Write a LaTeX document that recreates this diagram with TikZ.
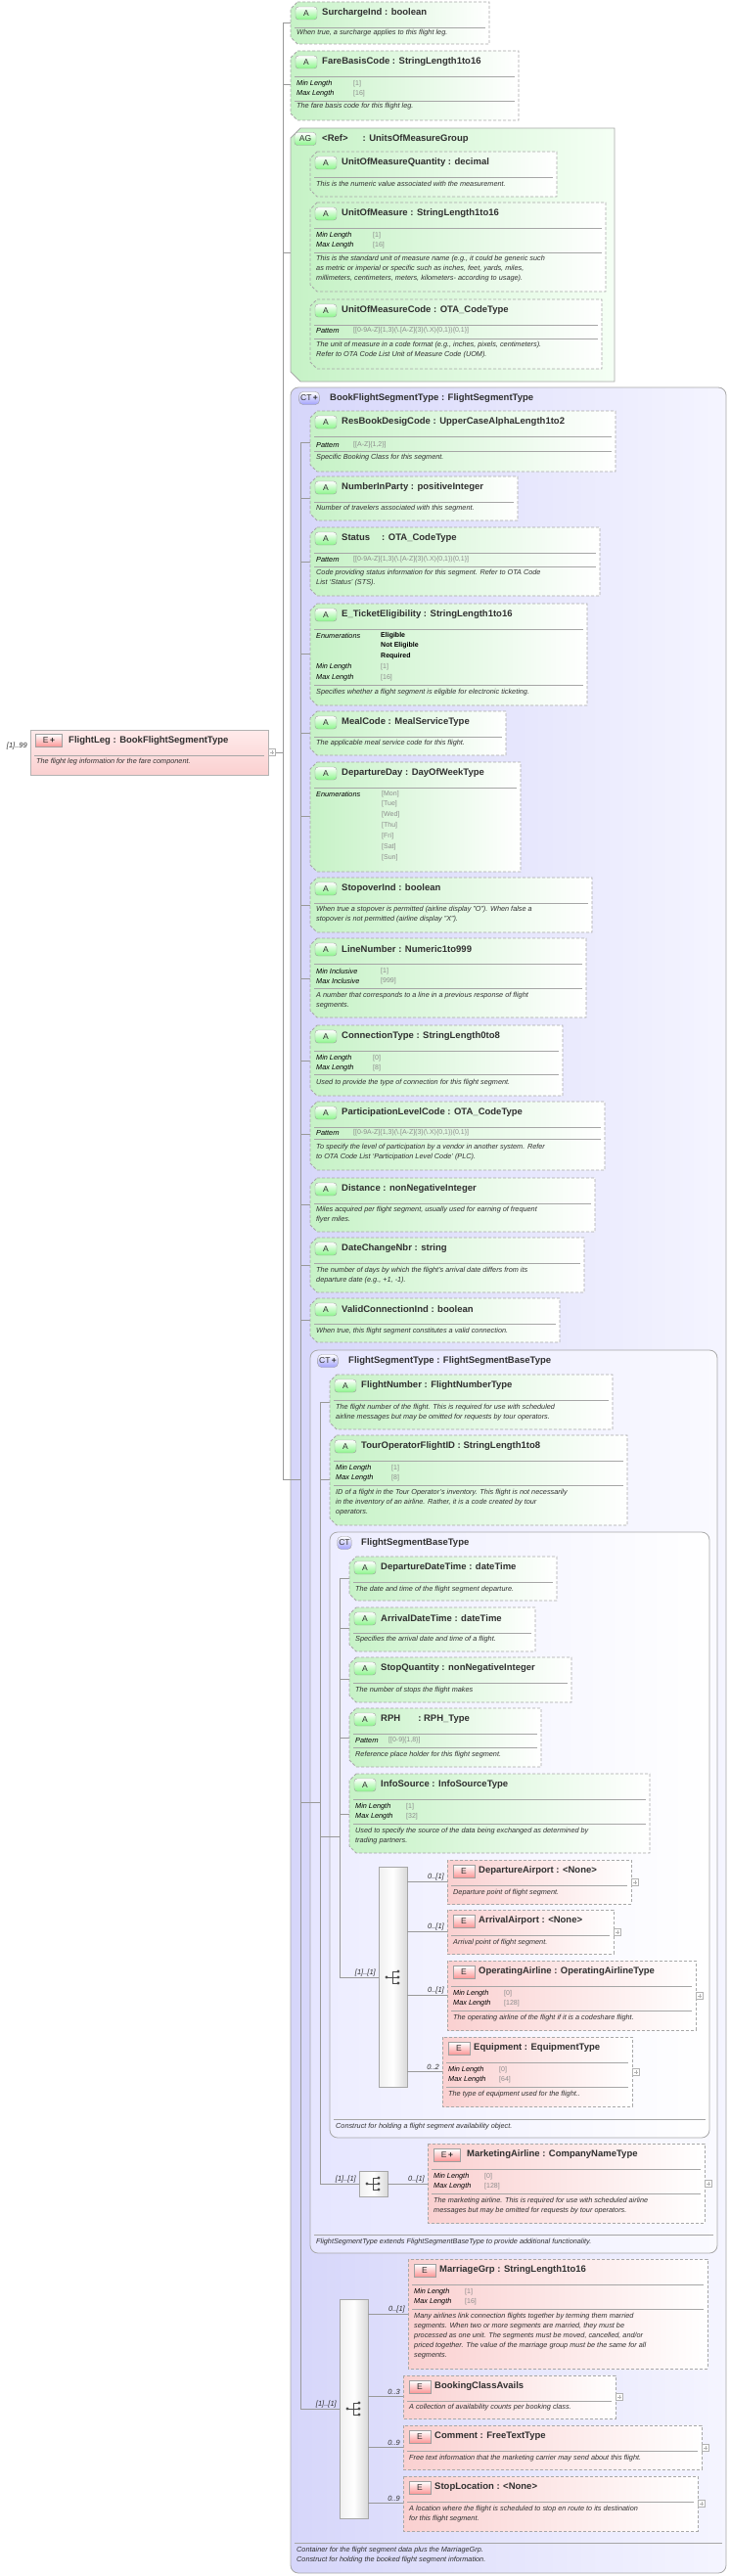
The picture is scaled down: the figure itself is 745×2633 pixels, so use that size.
\documentclass[tikz,border=0pt]{standalone}
\usepackage{fontspec}
\setmainfont{Liberation Sans}
\definecolor{agreen}{HTML}{C6F2C6}
\definecolor{epink}{HTML}{FAD0D0}
\definecolor{ctblue}{HTML}{D6D6FA}
\definecolor{bordg}{HTML}{A8A8A8}
\definecolor{txt}{HTML}{303030}
\definecolor{fvalc}{HTML}{8C8C8C}
\newcounter{nc}
\tikzset{
 attrbox/.style={draw=bordg, dash pattern=on 3pt off 2pt, left color=agreen, right color=white, line width=0.8pt},
 elbox/.style={draw=bordg, dash pattern=on 3pt off 2pt, left color=epink, right color=white, line width=0.8pt},
 ctbox/.style={draw=bordg, rounded corners=8pt, line width=0.8pt},
 ttl/.style={anchor=west, inner sep=0, font=\fontsize{9.5}{11}\selectfont\bfseries, text=txt},
 dsc/.style={anchor=north west, inner sep=0, align=left, font=\fontsize{7.3}{10}\selectfont\itshape, text=txt},
 fkey/.style={anchor=west, inner sep=0, font=\fontsize{7.3}{9}\selectfont\itshape, text=black},
 fval/.style={anchor=west, inner sep=0, font=\fontsize{7}{9}\selectfont, text=fvalc},
 fbold/.style={anchor=west, inner sep=0, font=\fontsize{7}{9}\selectfont\bfseries, text=black},
 sepl/.style={draw=gray!70, line width=0.6pt},
 tree/.style={draw=gray!80, line width=0.6pt},
 card/.style={anchor=south east, inner sep=0, font=\fontsize{7.5}{9}\selectfont\itshape, text=txt},
 badgeA/.style={draw=gray!75, rounded corners=3pt, top color=white, bottom color=green!30!agreen, minimum width=22pt, minimum height=13pt, inner sep=0, font=\fontsize{8.5}{9}\selectfont, text=txt},
 badgeE/.style={draw=gray!75, top color=white, bottom color=red!30!epink, minimum width=22pt, minimum height=13pt, inner sep=0, font=\fontsize{8.5}{9}\selectfont, text=txt},
 badgeC/.style={draw=gray!75, rounded corners=4pt, top color=white, bottom color=blue!25!ctblue, minimum height=13pt, inner sep=1.5pt, font=\fontsize{8.5}{9}\selectfont, text=txt},
 seqbox/.style={draw=gray!70, left color=gray!12, right color=gray!30, middle color=white, line width=0.6pt},
}
\newcommand\Abox[6]{%
 \path[attrbox] ({#2+7},#3) -- (#4,#3) -- (#4,#5) -- ({#2+7},#5) -- (#2,{#5-7}) -- (#2,{#3+7}) -- cycle;
 \node[badgeA] (#1b) at ({#2+16},{#3+11.5}) {A};
 \node[ttl] (#1) at ({#2+32},{#3+11.5}) {#6};
 \draw[sepl] ({#2+4},{#3+26}) -- ({#4-4},{#3+26});}
\newcommand\Ebox[6]{%
 \path[elbox] (#2,#3) rectangle (#4,#5);
 \node[badgeE] (#1b) at ({#2+17},{#3+12}) {E};
 \node[ttl] (#1) at ({#2+32},{#3+11.5}) {#6};
 \draw[sepl] ({#2+4},{#3+26}) -- ({#4-4},{#3+26});}
\newcommand\Dsc[3]{\stepcounter{nc}\node[dsc] (d\arabic{nc}) at (#1,{#2-4.5}) {#3};}
\newcommand\Fct[5]{\stepcounter{nc}\node[fkey] (k\arabic{nc}) at ({#1+6},#2) {#3};\node[fval] (v\arabic{nc}) at ({#1+#5},#2) {#4};}
\newcommand\Val[3]{\stepcounter{nc}\node[fval] (v\arabic{nc}) at (#1,#2) {#3};}
\newcommand\Sep[3]{\draw[sepl] ({#1+4},#3) -- ({#2-4},#3);}
\newcommand\Exp[2]{\draw[gray!60, fill=white, line width=0.5pt] ({#1-3.5},{#2-3.5}) rectangle ({#1+3.5},{#2+3.5}); \draw[gray!60, line width=0.5pt] ({#1-2},#2) -- ({#1+2},#2) ({#1},{#2-2}) -- ({#1},{#2+2});}
\newcommand\SeqIcon[2]{%
 \draw[black!70, line width=0.8pt] ({#1-7},#2) -- ({#1-1},#2) ({#1-1},{#2-6}) -- ({#1-1},{#2+6})
   ({#1-1},{#2-6}) -- ({#1+5},{#2-6}) ({#1-1},{#2+6}) -- ({#1+5},{#2+6}) ({#1-1},#2) -- ({#1+5},#2);
 \fill[black!70] ({#1-7},#2) circle (1.7pt) ({#1+5},{#2-6}) circle (1.7pt) ({#1+5},#2) circle (1.7pt) ({#1+5},{#2+6}) circle (1.7pt);}
\newcommand\Card[3]{\stepcounter{nc}\node[card] (c\arabic{nc}) at (#1,{#2-1}) {#3};}
\newcommand\PatOTA{[[0-9A-Z]\{1,3\}(\textbackslash.[A-Z]\{3\}(\textbackslash.X)\{0,1\})\{0,1\}]}
\begin{document}
\begin{tikzpicture}[x=1pt,y=-1pt]
\useasboundingbox[fill=white] (0,0) rectangle (745,2633);
\path[ctbox, left color=ctblue, right color=blue!4] (297,396) rectangle (742,2630);
\coordinate (t0a) at (289,23); \coordinate (t0b) at (289,1512);
\draw[tree] (t0a) -- (t0b) -- (307,1512);
\draw[tree] (t0a) -- (297,23) (289,86) -- (297,86) (289,258) -- (297,258);
\draw[tree] (281,769) -- (289,769);
\draw[tree] (307,178) -- (307,340);
\foreach \yy in {178,250,340} \draw[tree] (307,\yy) -- (317,\yy);
\draw[tree] (307,452) -- (307,2462);
\foreach \yy in {452,509,574,668,749,834,925,1000,1084,1159,1231,1293,1349} \draw[tree] (307,\yy) -- (317,\yy);
\draw[draw=gray!60, top color=red!8, bottom color=epink, line width=0.8pt] (31,746) rectangle (274,792);
\node[badgeE, minimum width=27pt] (flb) at (50,757) {E\,\textbf{+}};
\node[ttl] (fl) at (70,757) {FlightLeg : BookFlightSegmentType};
\draw[sepl] (35,772) -- (270,772);
\Dsc{37}{780}{The flight leg information for the fare component.}
\node[card, anchor=east] (flc) at (28,763) {[1]..99};
\Exp{278}{769}
\Abox{surch}{297}{2}{500}{45}{SurchargeInd : boolean}
\Dsc{303}{35}{When true, a surcharge applies to this flight leg.}
\Abox{fare}{297}{52}{530}{123}{FareBasisCode : StringLength1to16}
\Fct{297}{86}{Min Length}{[1]}{64}\Fct{297}{96}{Max Length}{[16]}{64}
\Sep{297}{530}{103}
\Dsc{303}{110}{The fare basis code for this flight leg.}
\path[draw=bordg, line width=0.8pt, left color=agreen, right color=green!4] (307,131) -- (628,131) -- (628,390) -- (307,390) -- (297,380) -- (297,141) -- cycle;
\node[badgeA] (agb) at (312,142) {AG};
\node[ttl] (ag) at (329,142) {<Ref>\hspace{15pt}: UnitsOfMeasureGroup};
\Abox{uomq}{317}{155}{569}{201}{UnitOfMeasureQuantity : decimal}
\Dsc{323}{190}{This is the numeric value associated with the measurement.}
\Abox{uom}{317}{207}{619}{298}{UnitOfMeasure : StringLength1to16}
\Fct{317}{241}{Min Length}{[1]}{64}\Fct{317}{251}{Max Length}{[16]}{64}
\Sep{317}{619}{258}
\Dsc{323}{266}{This is the standard unit of measure name (e.g., it could be generic such\\as metric or imperial or specific such as inches, feet, yards, miles,\\millimeters, centimeters, meters, kilometers- according to usage).}
\Abox{uomc}{317}{306}{615}{377}{UnitOfMeasureCode : OTA\_CodeType}
\Fct{317}{338}{Pattern}{\PatOTA}{44}
\Sep{317}{615}{346}
\Dsc{323}{354}{The unit of measure in a code format (e.g., inches, pixels, centimeters).\\Refer to OTA Code List Unit of Measure Code (UOM).}
\node[badgeC] (ctb) at (316,407) {CT\,\textbf{+}};
\node[ttl] (ct) at (337,407) {BookFlightSegmentType : FlightSegmentType};
\Sep{297}{742}{2599}
\Dsc{303}{2607}{Container for the flight segment data plus the MarriageGrp.\\Construct for holding the booked flight segment information.}
\Abox{rbd}{317}{420}{629}{482}{ResBookDesigCode : UpperCaseAlphaLength1to2}
\Fct{317}{455}{Pattern}{[[A-Z]\{1,2\}]}{44}
\Sep{317}{629}{461}
\Dsc{323}{469}{Specific Booking Class for this segment.}
\Abox{nip}{317}{487}{529}{532}{NumberInParty : positiveInteger}
\Dsc{323}{521}{Number of travelers associated with this segment.}
\Abox{sts}{317}{539}{613}{609}{Status\hspace{12pt}: OTA\_CodeType}
\Fct{317}{572}{Pattern}{\PatOTA}{44}
\Sep{317}{613}{579}
\Dsc{323}{587}{Code providing status information for this segment. Refer to OTA Code\\List `Status' (STS).}
\Abox{etk}{317}{617}{600}{721}{E\_TicketEligibility : StringLength1to16}
\Fct{317}{650}{Enumerations}{}{72}
\stepcounter{nc}\node[fbold] (e1) at (389,650) {Eligible};
\node[fbold] (e2) at (389,660) {Not Eligible};
\node[fbold] (e3) at (389,671) {Required};
\Fct{317}{682}{Min Length}{[1]}{72}\Fct{317}{693}{Max Length}{[16]}{72}
\Sep{317}{600}{700}
\Dsc{323}{709}{Specifies whether a flight segment is eligible for electronic ticketing.}
\Abox{meal}{317}{727}{517}{772}{MealCode : MealServiceType}
\Dsc{323}{761}{The applicable meal service code for this flight.}
\Abox{dday}{317}{779}{532}{891}{DepartureDay : DayOfWeekType}
\Fct{317}{812}{Enumerations}{[Mon]}{73}
\Val{390}{822}{[Tue]}\Val{390}{833}{[Wed]}\Val{390}{844}{[Thu]}\Val{390}{855}{[Fri]}\Val{390}{866}{[Sat]}\Val{390}{877}{[Sun]}
\Abox{stop}{317}{897}{605}{953}{StopoverInd : boolean}
\Dsc{323}{931}{When true a stopover is permitted (airline display "O").  When false a\\stopover is not permitted (airline display "X").}
\Abox{line}{317}{959}{599}{1040}{LineNumber : Numeric1to999}
\Fct{317}{993}{Min Inclusive}{[1]}{72}\Fct{317}{1003}{Max Inclusive}{[999]}{72}
\Sep{317}{599}{1010}
\Dsc{323}{1018}{A number that corresponds to a line in a previous response of flight\\segments.}
\Abox{conn}{317}{1048}{575}{1120}{ConnectionType : StringLength0to8}
\Fct{317}{1082}{Min Length}{[0]}{64}\Fct{317}{1092}{Max Length}{[8]}{64}
\Sep{317}{575}{1098}
\Dsc{323}{1107}{Used to provide the type of connection for this flight segment.}
\Abox{plc}{317}{1126}{618}{1196}{ParticipationLevelCode : OTA\_CodeType}
\Fct{317}{1158}{Pattern}{\PatOTA}{44}
\Sep{317}{618}{1164}
\Dsc{323}{1173}{To specify the level of participation by a vendor in another system. Refer\\to OTA Code List `Participation Level Code' (PLC).}
\Abox{dist}{317}{1204}{608}{1259}{Distance : nonNegativeInteger}
\Dsc{323}{1237}{Miles acquired per flight segment, usually used for earning of frequent\\flyer miles.}
\Abox{dcn}{317}{1265}{597}{1321}{DateChangeNbr : string}
\Dsc{323}{1299}{The number of days by which the flight's arrival date differs from its\\departure date (e.g., +1, -1).}
\Abox{vci}{317}{1327}{572}{1372}{ValidConnectionInd : boolean}
\Dsc{323}{1361}{When true, this flight segment constitutes a valid connection.}
\path[ctbox, left color=blue!10, right color=blue!2] (317,1380) rectangle (733,2303);
\node[badgeC] (fstb) at (335,1391) {CT\,\textbf{+}};
\node[ttl] (fst) at (356,1391) {FlightSegmentType : FlightSegmentBaseType};
\Sep{317}{733}{2284}
\Dsc{323}{2292}{FlightSegmentType extends FlightSegmentBaseType to provide additional functionality.}
\draw[tree] (327,1433) -- (327,2232);
\draw[tree] (307,1842) -- (327,1842);
\foreach \yy in {1433,1512} \draw[tree] (327,\yy) -- (337,\yy);
\Abox{fno}{337}{1405}{626}{1461}{FlightNumber : FlightNumberType}
\Dsc{343}{1439}{The flight number of the flight. This is required for use with scheduled\\airline messages but may be omitted for requests by tour operators.}
\Abox{tof}{337}{1467}{641}{1559}{TourOperatorFlightID : StringLength1to8}
\Fct{337}{1501}{Min Length}{[1]}{63}\Fct{337}{1511}{Max Length}{[8]}{63}
\Sep{337}{641}{1518}
\Dsc{343}{1526}{ID of a flight in the Tour Operator's inventory. This flight is not necessarily\\in the inventory of an airline. Rather, it is a code created by tour\\operators.}
\path[ctbox, left color=blue!7, right color=white] (337,1566) rectangle (725,2185);
\node[badgeC] (fsbb) at (352,1577) {CT};
\node[ttl] (fsb) at (369,1577) {FlightSegmentBaseType};
\Sep{337}{725}{2166}
\Dsc{343}{2174}{Construct for holding a flight segment availability object.}
\draw[tree] (347,1613) -- (347,2021);
\draw[tree] (327,1877) -- (347,1877);
\foreach \yy in {1613,1664,1716,1776,1854} \draw[tree] (347,\yy) -- (357,\yy);
\Abox{ddt}{357}{1591}{569}{1636}{DepartureDateTime : dateTime}
\Dsc{363}{1625}{The date and time of the flight segment departure.}
\Abox{adt}{357}{1643}{547}{1688}{ArrivalDateTime : dateTime}
\Dsc{363}{1676}{Specifies the arrival date and time of a flight.}
\Abox{sq}{357}{1694}{584}{1740}{StopQuantity : nonNegativeInteger}
\Dsc{363}{1728}{The number of stops the flight makes}
\Abox{rph}{357}{1746}{553}{1806}{RPH\hspace{18pt}: RPH\_Type}
\Fct{357}{1779}{Pattern}{[[0-9]\{1,8\}]}{40}
\Sep{357}{553}{1786}
\Dsc{363}{1794}{Reference place holder for this flight segment.}
\Abox{isrc}{357}{1813}{664}{1894}{InfoSource : InfoSourceType}
\Fct{357}{1847}{Min Length}{[1]}{58}\Fct{357}{1857}{Max Length}{[32]}{58}
\Sep{357}{664}{1864}
\Dsc{363}{1872}{Used to specify the source of the data being exchanged as determined by\\trading partners.}
\path[seqbox] (387,1908) rectangle (416,2133);
\SeqIcon{402}{2021}
\draw[tree] (347,2021) -- (387,2021);
\Card{384}{2021}{[1]..[1]}
\foreach \yy/\xx in {1923/457,1974/457,2039/457,2117/452} \draw[tree] (416,\yy) -- (\xx,\yy);
\Card{454}{1923}{0..[1]}\Card{454}{1974}{0..[1]}\Card{454}{2039}{0..[1]}\Card{449}{2117}{0..2}
\Ebox{dap}{457}{1901}{645}{1946}{DepartureAirport : <None>}
\Dsc{463}{1935}{Departure point of flight segment.}
\Exp{649}{1924}
\Ebox{aap}{457}{1952}{627}{1997}{ArrivalAirport : <None>}
\Dsc{463}{1986}{Arrival point of flight segment.}
\Exp{631}{1975}
\Ebox{opa}{457}{2004}{711}{2075}{OperatingAirline : OperatingAirlineType}
\Fct{457}{2038}{Min Length}{[0]}{58}\Fct{457}{2048}{Max Length}{[128]}{58}
\Sep{457}{711}{2055}
\Dsc{463}{2063}{The operating airline of the flight if it is a codeshare  flight.}
\Exp{715}{2040}
\Ebox{eqp}{452}{2082}{646}{2153}{Equipment : EquipmentType}
\Fct{452}{2116}{Min Length}{[0]}{58}\Fct{452}{2126}{Max Length}{[64]}{58}
\Sep{452}{646}{2133}
\Dsc{458}{2141}{The type of equipment  used for the  flight..}
\Exp{650}{2118}
\path[seqbox] (367,2219) rectangle (396,2245);
\SeqIcon{382}{2232}
\draw[tree] (327,2232) -- (367,2232) (396,2232) -- (437,2232);
\Card{364}{2232}{[1]..[1]}\Card{434}{2232}{0..[1]}
\path[elbox] (437,2191) rectangle (720,2272);
\node[badgeE, minimum width=27pt] (mab) at (457,2203) {E\,\textbf{+}};
\node[ttl] (ma) at (477,2202) {MarketingAirline : CompanyNameType};
\Sep{437}{720}{2217}
\Fct{437}{2225}{Min Length}{[0]}{58}\Fct{437}{2235}{Max Length}{[128]}{58}
\Sep{437}{720}{2242}
\Dsc{443}{2250}{The marketing airline. This is required for use with scheduled airline\\messages but may be omitted for requests by tour operators.}
\Exp{724}{2232}
\path[seqbox] (347,2350) rectangle (376,2574);
\SeqIcon{362}{2462}
\draw[tree] (307,2462) -- (347,2462);
\Card{344}{2462}{[1]..[1]}
\foreach \yy/\xx in {2365/417,2449/412,2501/412,2558/412} \draw[tree] (376,\yy) -- (\xx,\yy);
\Card{414}{2365}{0..[1]}\Card{409}{2449}{0..3}\Card{409}{2501}{0..9}\Card{409}{2558}{0..9}
\Ebox{mgrp}{417}{2309}{723}{2421}{MarriageGrp : StringLength1to16}
\Fct{417}{2343}{Min Length}{[1]}{58}\Fct{417}{2353}{Max Length}{[16]}{58}
\Sep{417}{723}{2360}
\Dsc{423}{2368}{Many airlines link connection flights together by terming them married\\segments.  When two or more segments are married, they must be\\processed as one unit. The segments must be moved, cancelled, and/or\\priced together. The value of the marriage group must be the same for all\\segments.}
\Ebox{bca}{412}{2428}{629}{2472}{BookingClassAvails}
\Dsc{418}{2461}{A collection of availability counts per booking class.}
\Exp{633}{2450}
\Ebox{cmt}{412}{2479}{717}{2524}{Comment : FreeTextType}
\Dsc{418}{2513}{Free text information that the marketing carrier may send about this flight.}
\Exp{721}{2502}
\Ebox{stl}{412}{2531}{713}{2587}{StopLocation : <None>}
\Dsc{418}{2565}{A location where the flight is scheduled to stop en route to its destination\\for this flight segment.}
\Exp{717}{2559}
\end{tikzpicture}
\end{document}
